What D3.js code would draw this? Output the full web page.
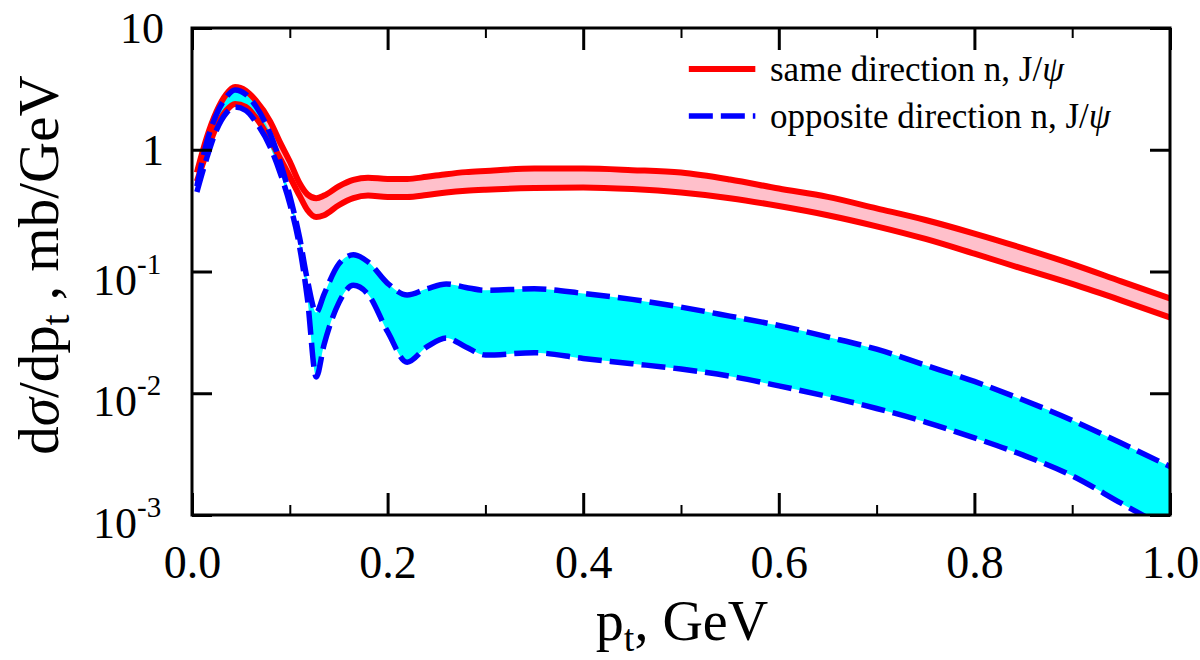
<!DOCTYPE html>
<html>
<head>
<meta charset="utf-8">
<script src="https://cdn.jsdelivr.net/npm/d3@7"></script>
<style>
  html, body { margin: 0; padding: 0; background: #fff; }
  svg { display: block; }
  text { font-family: "Liberation Serif", "Times New Roman", serif; fill: #000; }
</style>
</head>
<body>
<svg id="chart" width="1200" height="660"></svg>
<script>
// ---------------- data ----------------
const pt = [0.005, 0.015, 0.025, 0.035, 0.044, 0.055, 0.065, 0.08, 0.09, 0.1, 0.11, 0.118, 0.127, 0.135, 0.15, 0.165, 0.18, 0.2, 0.22, 0.24, 0.26, 0.28, 0.3, 0.35, 0.4, 0.45, 0.5, 0.55, 0.6, 0.65, 0.7, 0.75, 0.8, 0.85, 0.9, 0.95, 1.0];

const sameHi = [0.65, 1.25, 2.05, 2.85, 3.27, 3.05, 2.55, 1.7, 1.15, 0.80, 0.53, 0.43, 0.40, 0.42, 0.50, 0.565, 0.59, 0.575, 0.575, 0.60, 0.63, 0.655, 0.67, 0.70, 0.70, 0.68, 0.65, 0.57, 0.48, 0.41, 0.33, 0.265, 0.205, 0.155, 0.115, 0.083, 0.06];
const sameLo = [0.55, 0.95, 1.55, 2.1, 2.38, 2.25, 1.85, 1.2, 0.85, 0.60, 0.42, 0.32, 0.28, 0.29, 0.35, 0.40, 0.42, 0.41, 0.41, 0.425, 0.445, 0.46, 0.47, 0.485, 0.49, 0.475, 0.445, 0.40, 0.345, 0.29, 0.235, 0.185, 0.14, 0.105, 0.079, 0.058, 0.042];
const oppHi = [0.5, 1.15, 1.95, 2.7, 3.1, 2.85, 2.3, 1.35, 0.8, 0.42, 0.19, 0.085, 0.046, 0.065, 0.115, 0.137, 0.12, 0.08, 0.064, 0.072, 0.079, 0.074, 0.070, 0.072, 0.066, 0.059, 0.051, 0.043, 0.036, 0.029, 0.023, 0.017, 0.0125, 0.0088, 0.006, 0.0039, 0.0025];
const oppLo = [0.45, 0.85, 1.45, 2.0, 2.24, 2.1, 1.7, 1.05, 0.65, 0.36, 0.16, 0.06, 0.0136, 0.025, 0.055, 0.077, 0.065, 0.032, 0.018, 0.024, 0.0284, 0.024, 0.0206, 0.0215, 0.0193, 0.0175, 0.0158, 0.0138, 0.0115, 0.0094, 0.0075, 0.0058, 0.0043, 0.0031, 0.0021, 0.00125, 0.00075];

const xMajorTicks = [0, 0.2, 0.4, 0.6, 0.8, 1.0];
const xMinorTicks = [0.1, 0.3, 0.5, 0.7, 0.9];
const yTicks = [10, 1, 0.1, 0.01, 0.001];
const yTickBase = ["10", "1", "10", "10", "10"];
const yTickExp = ["", "", "-1", "-2", "-3"];
const legendLabels = ["same direction n, J/", "opposite direction n, J/"];

// ---------------- layout ----------------
const L = 192, T = 28, R = 1170, B = 515;
const svg = d3.select("#chart");

const x = d3.scaleLinear().domain([0, 1]).range([L, R]);
const y = d3.scaleLog().domain([1e-3, 10]).range([B, T]);

svg.append("defs").append("clipPath").attr("id", "clip")
  .append("rect").attr("x", L).attr("y", T).attr("width", R - L).attr("height", B - T);

const plot = svg.append("g").attr("clip-path", "url(#clip)");

const idx = d3.range(pt.length);
const area = (hi, lo) => d3.area()
  .x(i => x(pt[i])).y0(i => y(lo[i])).y1(i => y(hi[i]))
  .curve(d3.curveMonotoneX);
const line = (arr) => d3.line()
  .x(i => x(pt[i])).y(i => y(arr[i]))
  .curve(d3.curveMonotoneX);

// fills
plot.append("path").attr("d", area(sameHi, sameLo)(idx)).attr("fill", "#ffc0cb");
plot.append("path").attr("d", area(oppHi, oppLo)(idx)).attr("fill", "#00ffff");

// red lines
[sameHi, sameLo].forEach(arr => {
  plot.append("path").attr("d", line(arr)(idx))
    .attr("fill", "none").attr("stroke", "#ff0000").attr("stroke-width", 6)
    .attr("stroke-linejoin", "round");
});
// blue dashed lines
[oppHi, oppLo].forEach(arr => {
  plot.append("path").attr("d", line(arr)(idx))
    .attr("fill", "none").attr("stroke", "#0000ff").attr("stroke-width", 5.5)
    .attr("stroke-dasharray", "24,8");
});

// ---------------- axes ----------------
const tickStyle = (g, w) => {
  g.select(".domain").remove();
  g.selectAll(".tick line").attr("stroke", "#000").attr("stroke-width", w);
};

// bottom major with labels
const gx = svg.append("g").attr("transform", `translate(0,${B})`)
  .call(d3.axisBottom(x).tickValues(xMajorTicks).tickSize(-22).tickPadding(30).tickFormat(d3.format(".1f")));
tickStyle(gx, 3);
gx.selectAll(".tick text").attr("font-family", "Liberation Serif").attr("font-size", 46).attr("fill", "#000");
// bottom minor
const gxm = svg.append("g").attr("transform", `translate(0,${B})`)
  .call(d3.axisBottom(x).tickValues(xMinorTicks).tickSize(-10).tickFormat(""));
tickStyle(gxm, 2);
// top
const gt = svg.append("g").attr("transform", `translate(0,${T})`)
  .call(d3.axisTop(x).tickValues(xMajorTicks).tickSize(-22).tickFormat(""));
tickStyle(gt, 3);
const gtm = svg.append("g").attr("transform", `translate(0,${T})`)
  .call(d3.axisTop(x).tickValues(xMinorTicks).tickSize(-10).tickFormat(""));
tickStyle(gtm, 2);
// left
const gl = svg.append("g").attr("transform", `translate(${L},0)`)
  .call(d3.axisLeft(y).tickValues(yTicks).tickSize(-20).tickFormat(""));
tickStyle(gl, 3);
// right
const gr = svg.append("g").attr("transform", `translate(${R},0)`)
  .call(d3.axisRight(y).tickValues(yTicks).tickSize(-20).tickFormat(""));
tickStyle(gr, 3);

// y tick labels with superscripts
yTicks.forEach((v, i) => {
  const hasExp = yTickExp[i] !== "";
  svg.append("text")
    .attr("x", hasExp ? 137 : 164)
    .attr("y", y(v) + (hasExp ? 23 : 15))
    .attr("text-anchor", "end")
    .attr("font-size", 44)
    .text(yTickBase[i]);
  if (hasExp) {
    svg.append("text")
      .attr("x", 137).attr("y", y(v) + 2)
      .attr("font-size", 29)
      .text(yTickExp[i]);
  }
});

// frame
svg.append("rect").attr("x", L).attr("y", T).attr("width", R - L).attr("height", B - T)
  .attr("fill", "none").attr("stroke", "#000").attr("stroke-width", 3);

// ---------------- axis titles ----------------
const xt = svg.append("text").attr("x", 682).attr("y", 640).attr("text-anchor", "middle").attr("font-size", 56);
xt.append("tspan").text("p");
xt.append("tspan").attr("font-size", 38).attr("dy", 11).text("t");
xt.append("tspan").attr("dy", -11).text(", GeV");

const yt = svg.append("text")
  .attr("transform", "translate(58,265) rotate(-90)")
  .attr("text-anchor", "middle").attr("font-size", 57);
yt.append("tspan").text("d");
yt.append("tspan").attr("font-style", "italic").text("σ");
yt.append("tspan").text("/dp");
yt.append("tspan").attr("font-size", 39).attr("dy", 11).text("t");
yt.append("tspan").attr("dy", -11).text(" , mb/GeV");

// ---------------- legend ----------------
const legY = [69, 116];
svg.append("line").attr("x1", x(0.508)).attr("x2", x(0.576)).attr("y1", legY[0]).attr("y2", legY[0])
  .attr("stroke", "#ff0000").attr("stroke-width", 6);
svg.append("line").attr("x1", x(0.508)).attr("x2", x(0.576)).attr("y1", legY[1]).attr("y2", legY[1])
  .attr("stroke", "#0000ff").attr("stroke-width", 5.5).attr("stroke-dasharray", "24,8");
legendLabels.forEach((lab, i) => {
  const t = svg.append("text").attr("x", 770).attr("y", legY[i] + 12).attr("font-size", 35);
  t.append("tspan").text(lab);
  t.append("tspan").attr("font-style", "italic").text("ψ");
});
</script>
</body>
</html>
